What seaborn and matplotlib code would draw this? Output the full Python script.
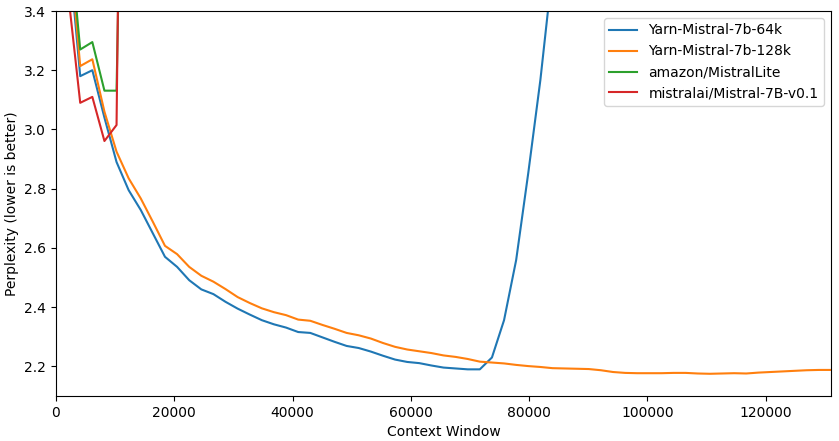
import matplotlib
matplotlib.use("Agg")
import matplotlib.pyplot as plt
import seaborn as sns
import numpy as np

# Context window sizes (tokens)
context = [2048 * k for k in range(1, 65)]

yarn_64k = [3.63, 3.18, 3.20, 3.04, 2.89, 2.795, 2.728, 2.649, 2.570, 2.536,
            2.491, 2.460, 2.444, 2.418, 2.395, 2.375, 2.356, 2.342, 2.331, 2.316,
            2.313, 2.298, 2.283, 2.269, 2.262, 2.250, 2.236, 2.223, 2.215, 2.211,
            2.203, 2.196, 2.193, 2.190, 2.190, 2.230, 2.356, 2.559, 2.853, 3.167,
            3.54]

yarn_128k = [3.67, 3.214, 3.237, 3.06, 2.925, 2.835, 2.767, 2.688, 2.607, 2.579,
             2.536, 2.506, 2.486, 2.461, 2.434, 2.414, 2.396, 2.383, 2.373, 2.358,
             2.354, 2.340, 2.327, 2.313, 2.305, 2.294, 2.279, 2.266, 2.257, 2.251,
             2.245, 2.237, 2.232, 2.225, 2.216, 2.213, 2.210, 2.205, 2.201, 2.198,
             2.194, 2.193, 2.192, 2.191, 2.187, 2.181, 2.178, 2.177, 2.177, 2.177,
             2.178, 2.178, 2.176, 2.175, 2.176, 2.177, 2.176, 2.179, 2.181, 2.183,
             2.185, 2.187, 2.188, 2.188]

mistrallite = [3.71, 3.27, 3.295, 3.131, 3.131, 5.3]

mistral_v01 = [3.46, 3.09, 3.11, 2.961, 3.015, 6.6]

series = [
    ("Yarn-Mistral-7b-64k", yarn_64k, "tab:blue"),
    ("Yarn-Mistral-7b-128k", yarn_128k, "tab:orange"),
    ("amazon/MistralLite", mistrallite, "tab:green"),
    ("mistralai/Mistral-7B-v0.1", mistral_v01, "tab:red"),
]

fig = plt.figure(figsize=(8.39, 4.41), dpi=100)
ax = fig.add_axes([56 / 839, 1 - 396 / 441, (831 - 56) / 839, (396 - 11) / 441])

for name, vals, color in series:
    sns.lineplot(x=context[:len(vals)], y=vals, ax=ax, label=name, color=color,
                 linewidth=1.5)

ax.set_xlim(0, 131072)
ax.set_ylim(2.1, 3.4)
ax.set_xticks([0, 20000, 40000, 60000, 80000, 100000, 120000])
ax.set_yticks([2.2, 2.4, 2.6, 2.8, 3.0, 3.2, 3.4])
ax.set_xlabel("Context Window")
ax.set_ylabel("Perplexity (lower is better)")
ax.legend(loc="upper right")

fig.savefig("out.png", dpi=100)
